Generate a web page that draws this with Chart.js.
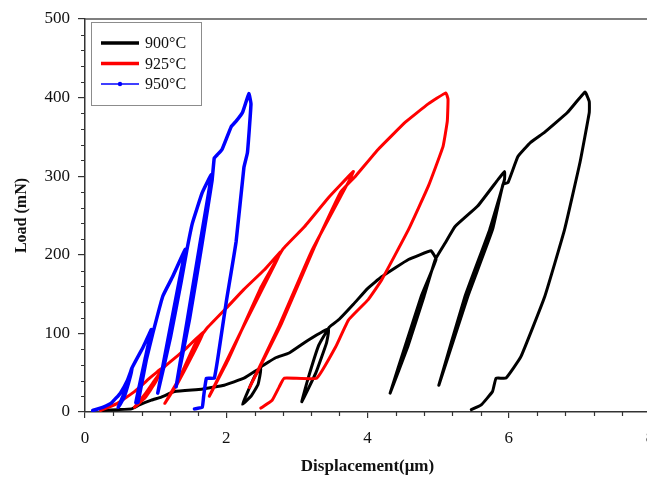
<!DOCTYPE html>
<html>
<head>
<meta charset="utf-8">
<script src="https://cdn.jsdelivr.net/npm/chart.js@4.4.1/dist/chart.umd.min.js"></script>
<style>
  html, body { margin: 0; padding: 0; overflow: hidden; background: #fff; }
  #marco { width: 666px; height: 477px; }
</style>
</head>
<body>
<div id="marco"><canvas id="grafico" width="666" height="477"></canvas></div>
<script>
// Curvas carga-descarga (desplazamiento en um, carga en mN)
const disp900 = [0.25,0.46,0.66,0.77,0.94,1.08,1.27,1.65,1.97,2.25,2.49, 2.45,2.35,2.23,
  2.30,2.40,2.50,2.70,2.89,3.17,3.45, 3.42,3.27,3.07,
  3.15,3.31,3.46,3.60,3.80,4.00,4.20,4.58,4.90, 4.97,4.76,4.53,4.32,
  4.57,4.80,4.96,5.10,5.24,5.56,5.85,5.94, 5.94,5.73,5.38,5.01,
  5.42,5.77,5.92,5.99,6.13,6.31,6.51,6.83,7.08,
  7.14,7.14,7.01,6.79,6.51,6.17,5.96,5.82,5.77,5.61,5.47];
const load900 = [2,3,4,9,15,19,26,29,34,43,56, 35,20,10,
  25,45,58,69,75,92,106, 88,50,13,
  40,85,108,118,137,157,172,194,205, 194,147,83,24,
  83,147,194,215,236,262,296,306, 296,232,147,34,
  147,232,290,292,325,343,356,381,407,
  395,381,318,232,147,70,43,43,26,9,3];

const disp925 = [0.22,0.46,0.70,0.94,1.08, 1.00,0.85,0.70,
  0.86,1.00,1.13,1.41,1.69, 1.52,1.32,1.13,
  1.33,1.55,1.72,2.01,2.25,2.54,2.77, 2.70,2.25,1.76,
  2.02,2.50,2.80,3.10,3.45,3.80, 3.75,3.21,2.75,2.33,
  2.78,3.25,3.62,3.83,4.15,4.54,4.86,5.11,
  5.14,5.13,5.07,4.86,4.58,4.20,4.01,3.73,3.55,3.28,2.82,2.75,2.65,2.49];
const load925 = [2,11,26,45,55, 38,18,6,
  24,42,58,79,103, 72,38,11,
  42,85,106,133,156,181,204, 190,110,20,
  65,160,207,235,273,306, 296,205,110,31,
  112,210,280,300,334,369,392,406,
  398,370,338,287,232,168,143,117,83,43,43,32,15,5];

const disp950 = [0.11,0.25,0.38,0.50,0.60,0.67, 0.62,0.55,0.47,
  0.56,0.66,0.82,0.94, 0.85,0.72,
  0.75,0.87,0.96,1.10,1.24,1.42, 1.33,1.18,1.03,
  1.21,1.36,1.44,1.52,1.66,1.79, 1.62,1.45,1.29,
  1.48,1.65,1.80,1.83,1.87,1.94,2.07,2.14,2.23,2.32,
  2.35,2.30,2.25,2.14,2.00,1.90,1.83,1.72,1.68,1.66,1.55];
const load950 = [2,6,12,24,40,57, 38,18,6,
  25,55,82,105, 67,12,
  12,67,100,147,172,207, 165,95,24,
  95,165,205,240,279,302, 210,118,32,
  118,210,295,323,327,334,363,370,381,405,
  392,330,311,217,140,80,43,43,20,6,4];

const etiquetas = ['900°C', '925°C', '950°C'];
const colores = ['#000000', '#ff0000', '#0000ff'];

const pares = (xs, ys) => xs.map((x, i) => ({ x: x, y: ys[i] }));

const fuente = 'Liberation Serif';

// ticks menores y borde superior
const menores = {
  id: 'menores',
  afterDraw(chart) {
    const c = chart.ctx, a = chart.chartArea;
    const sx = chart.scales.x, sy = chart.scales.y;
    c.save();
    c.strokeStyle = '#333';
    c.lineWidth = 1.2;
    c.beginPath();
    for (let v = 0.4; v < 8; v += 0.4) {
      if (Math.abs(v / 2 - Math.round(v / 2)) < 0.01) continue;
      const px = Math.round(sx.getPixelForValue(v)) + 0.5;
      c.moveTo(px, a.bottom);
      c.lineTo(px, a.bottom + 4);
    }
    for (let v = 20; v < 500; v += 20) {
      if (v % 100 === 0) continue;
      const py = Math.round(sy.getPixelForValue(v)) + 0.5;
      c.moveTo(a.left - 4, py);
      c.lineTo(a.left, py);
    }
    c.stroke();
    c.strokeStyle = '#555';
    c.lineWidth = 1.5;
    c.beginPath();
    c.moveTo(a.left, a.top);
    c.lineTo(a.right, a.top);
    c.stroke();
    c.restore();
  }
};

// leyenda con recuadro dentro del area
const leyenda = {
  id: 'leyenda',
  afterDraw(chart) {
    const c = chart.ctx, a = chart.chartArea;
    const x0 = a.left + 6, y0 = a.top + 3;
    c.save();
    c.strokeStyle = '#8c8c8c';
    c.lineWidth = 1;
    c.strokeRect(x0 + 0.5, y0 + 0.5, 110, 83);
    c.font = '16px "' + fuente + '"';
    c.textBaseline = 'middle';
    c.fillStyle = '#111';
    chart.data.datasets.forEach((ds, i) => {
      const y = y0 + 21 + i * 20.5;
      c.strokeStyle = ds.borderColor;
      c.lineWidth = i < 2 ? 3.5 : 1.3;
      c.beginPath();
      c.moveTo(x0 + 10, y);
      c.lineTo(x0 + 48, y);
      c.stroke();
      if (i === 2) {
        c.fillStyle = ds.borderColor;
        c.beginPath();
        c.arc(x0 + 29, y, 2.2, 0, Math.PI * 2);
        c.fill();
        c.fillStyle = '#111';
      }
      c.fillText(ds.label, x0 + 54, y + 1);
    });
    c.restore();
  }
};

const datos = {
  datasets: [
    { label: etiquetas[0], data: pares(disp900, load900), borderColor: colores[0], borderWidth: 3, order: 3 },
    { label: etiquetas[1], data: pares(disp925, load925), borderColor: colores[1], borderWidth: 3, order: 2 },
    { label: etiquetas[2], data: pares(disp950, load950), borderColor: colores[2], borderWidth: 3.5, order: 1 }
  ].map(d => Object.assign(d, {
    showLine: true, pointRadius: 0, tension: 0.1,
    borderJoinStyle: 'round', borderCapStyle: 'round', fill: false
  }))
};

const grafico = new Chart(document.getElementById('grafico'), {
  type: 'scatter',
  data: datos,
  plugins: [menores, leyenda],
  options: {
    responsive: false,
    animation: false,
    layout: { padding: { top: 19, right: 16, bottom: 0, left: 0 } },
    plugins: { legend: { display: false }, tooltip: { enabled: false } },
    scales: {
      x: {
        type: 'linear', min: 0, max: 8,
        ticks: { stepSize: 2, color: '#111', padding: 10, font: { family: fuente, size: 17 } },
        grid: { drawOnChartArea: false, drawTicks: true, tickLength: 6, color: '#333', lineWidth: 1.2 },
        border: { display: true, color: '#333', width: 1.5 },
        title: { display: true, text: 'Displacement(μm)', color: '#111',
          font: { family: fuente, size: 17, weight: 'bold' }, padding: { top: 4, bottom: 0 } },
        afterFit: s => { s.height = 65; }
      },
      y: {
        type: 'linear', min: 0, max: 500,
        ticks: { stepSize: 100, color: '#111', padding: 8, font: { family: fuente, size: 17 } },
        grid: { drawOnChartArea: false, drawTicks: true, tickLength: 7, color: '#333', lineWidth: 1.2 },
        border: { display: true, color: '#333', width: 1.5 },
        title: { display: true, text: 'Load (mN)', color: '#111',
          font: { family: fuente, size: 16, weight: 'bold' }, padding: { top: 12, bottom: 0 } },
        afterFit: s => { s.width = 85; }
      }
    }
  }
});
</script>
</body>
</html>
